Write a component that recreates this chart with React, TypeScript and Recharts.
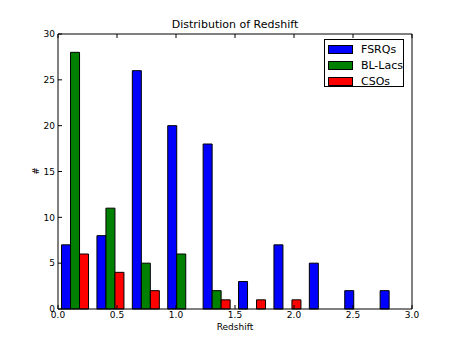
import React from "react";
import { Bar, BarChart, XAxis, YAxis } from "recharts";

// histogram bins of width 0.3 from 0 to 3.0
const bins = ["0.0-0.3", "0.3-0.6", "0.6-0.9", "0.9-1.2", "1.2-1.5", "1.5-1.8", "1.8-2.1", "2.1-2.4", "2.4-2.7", "2.7-3.0"];
const binMids = [0.15, 0.45, 0.75, 1.05, 1.35, 1.65, 1.95, 2.25, 2.55, 2.85];
const fsrqs = [7, 8, 26, 20, 18, 3, 7, 5, 2, 2];
const blLacs = [28, 11, 5, 6, 2, 0, 0, 0, 0, 0];
const csos = [6, 4, 2, 0, 1, 1, 1, 0, 0, 0];
const xTicks = [0, 0.5, 1, 1.5, 2, 2.5, 3];
const yTicks = [0, 5, 10, 15, 20, 25, 30];

const series = [
  { key: "FSRQs", color: "#0000ff" },
  { key: "BL-Lacs", color: "#008000" },
  { key: "CSOs", color: "#ff0000" },
];

const font = "'DejaVu Sans', sans-serif";
const tickStyle = { fill: "#000", fontSize: 9, fontFamily: font };

const App: React.FC = () => {
  const data = bins.map((bin, i) => ({
    bin,
    mid: binMids[i],
    FSRQs: fsrqs[i],
    "BL-Lacs": blLacs[i],
    CSOs: csos[i],
  }));

  return (
    <div style={{ position: "absolute", left: 0, top: 0, width: 457, height: 344, background: "#fff", fontFamily: font }}>
      <BarChart
        width={457}
        height={344}
        data={data}
        margin={{ top: 0, right: 0, bottom: 0, left: 0 }}
        barCategoryGap="10%"
        barGap={0}
      >
        <XAxis
          xAxisId="num"
          dataKey="mid"
          type="number"
          domain={[0, 3]}
          ticks={xTicks}
          tickFormatter={(v) => v.toFixed(1)}
          height={35}
          stroke="#000"
          tick={tickStyle}
          tickSize={-4}
          tickMargin={7}
          interval={0}
        />
        <XAxis xAxisId="cat" dataKey="bin" hide height={0} />
        <XAxis
          xAxisId="top"
          dataKey="mid"
          type="number"
          orientation="top"
          domain={[0, 3]}
          ticks={xTicks}
          tickFormatter={() => ""}
          height={34}
          stroke="#000"
          tickSize={-4}
        />
        <YAxis
          yAxisId="left"
          domain={[0, 30]}
          ticks={yTicks}
          width={58}
          stroke="#000"
          tick={tickStyle}
          tickSize={-4}
          tickMargin={7}
          interval={0}
        />
        <YAxis
          yAxisId="right"
          orientation="right"
          domain={[0, 30]}
          ticks={yTicks}
          width={45}
          stroke="#000"
          tickFormatter={() => ""}
          tickSize={-4}
        />
        {series.map((s) => (
          <Bar
            key={s.key}
            dataKey={s.key}
            xAxisId="cat"
            yAxisId="left"
            fill={s.color}
            stroke="#000"
            strokeWidth={1}
            isAnimationActive={false}
          />
        ))}
      </BarChart>

      <div style={{ position: "absolute", left: 58, top: 18, width: 354, textAlign: "center", fontSize: 11, lineHeight: "14px", color: "#000" }}>
        Distribution of Redshift
      </div>
      <div style={{ position: "absolute", left: 58, top: 321, width: 354, textAlign: "center", fontSize: 9, lineHeight: "12px", color: "#000" }}>
        Redshift
      </div>
      <div
        style={{
          position: "absolute",
          left: 30,
          top: 165,
          width: 12,
          height: 12,
          fontSize: 9,
          lineHeight: "12px",
          textAlign: "center",
          transform: "rotate(-90deg)",
          color: "#000",
        }}
      >
        #
      </div>

      <div
        style={{
          position: "absolute",
          left: 324,
          top: 39,
          width: 80,
          height: 48,
          border: "1px solid #000",
          background: "#fff",
          paddingTop: 1,
          boxSizing: "border-box",
        }}
      >
        {series.map((s) => (
          <div key={s.key} style={{ display: "flex", alignItems: "center", height: 16 }}>
            <div style={{ marginLeft: 3, width: 23, height: 7, background: s.color, border: "1px solid #000" }} />
            <div style={{ marginLeft: 8, fontSize: 11, color: "#000", whiteSpace: "nowrap" }}>{s.key}</div>
          </div>
        ))}
      </div>
    </div>
  );
};

export default App;
